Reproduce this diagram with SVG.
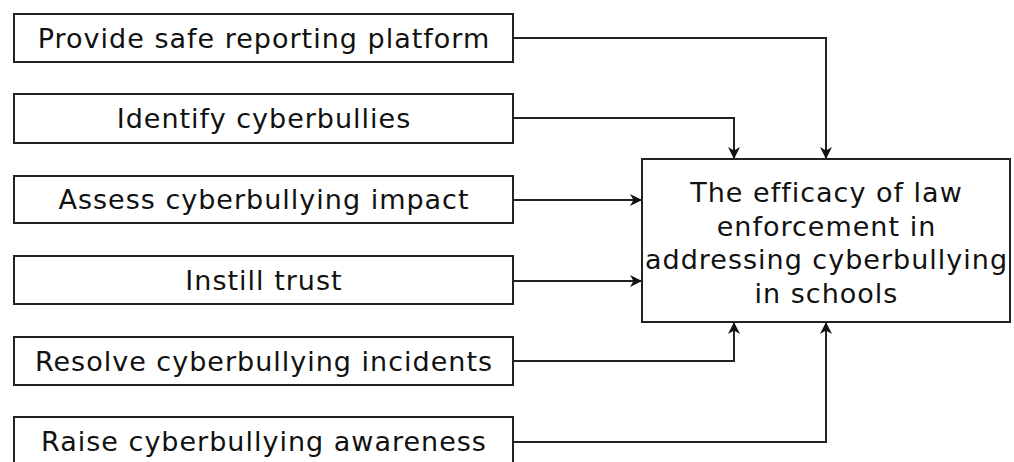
<svg xmlns="http://www.w3.org/2000/svg" width="1014" height="462" viewBox="0 0 1014 462">
<defs>
<marker id="arr" viewBox="0 0 12 12" refX="12" refY="6" markerWidth="12" markerHeight="12" markerUnits="userSpaceOnUse" orient="auto">
<path d="M0,0 L12,6 L0,12 L3.5,6 Z" fill="#111"/>
</marker>
<style>
.box{fill:#fff;stroke:#222;stroke-width:2}
.t{font-family:"DejaVu Sans",Verdana,sans-serif;font-size:27px;letter-spacing:1px;fill:#111;text-anchor:middle}
.c{fill:none;stroke:#222;stroke-width:2}
</style>
</defs>
<rect width="1014" height="462" fill="#fff"/>
<g id="connectors">
<path class="c" d="M513,38 H826 V159" marker-end="url(#arr)"/>
<path class="c" d="M513,118 H734 V159" marker-end="url(#arr)"/>
<path class="c" d="M513,200 H642" marker-end="url(#arr)"/>
<path class="c" d="M513,281 H642" marker-end="url(#arr)"/>
<path class="c" d="M513,361 H734 V322" marker-end="url(#arr)"/>
<path class="c" d="M513,442 H826 V322" marker-end="url(#arr)"/>
</g>
<g id="n1"><rect class="box" x="14" y="14" width="499" height="48"/><text class="t" x="264" y="48">Provide safe reporting platform</text></g>
<g id="n2"><rect class="box" x="14" y="94" width="499" height="49"/><text class="t" x="264" y="128">Identify cyberbullies</text></g>
<g id="n3"><rect class="box" x="14" y="176" width="499" height="47"/><text class="t" x="264" y="209">Assess cyberbullying impact</text></g>
<g id="n4"><rect class="box" x="14" y="256" width="499" height="48"/><text class="t" x="264" y="290">Instill trust</text></g>
<g id="n5"><rect class="box" x="14" y="337" width="499" height="48"/><text class="t" x="264" y="371">Resolve cyberbullying incidents</text></g>
<g id="n6"><rect class="box" x="14" y="417" width="499" height="50"/><text class="t" x="264" y="451">Raise cyberbullying awareness</text></g>
<g id="target"><rect class="box" x="642" y="159" width="368" height="163"/>
<text class="t" x="826.5" y="202">The efficacy of law</text>
<text class="t" x="826.5" y="235.5">enforcement in</text>
<text class="t" x="826.5" y="269">addressing cyberbullying</text>
<text class="t" x="826.5" y="303">in schools</text>
</g>
</svg>
